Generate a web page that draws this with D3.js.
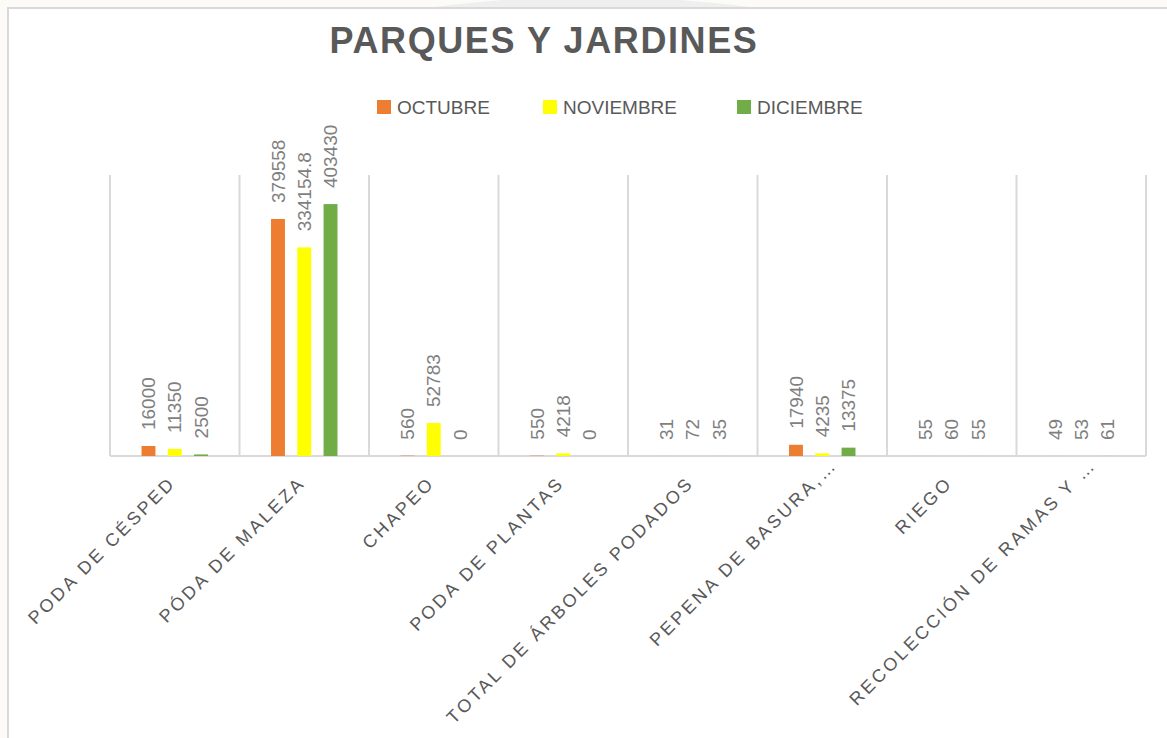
<!DOCTYPE html>
<html>
<head>
<meta charset="utf-8">
<script src="https://cdn.jsdelivr.net/npm/d3@7"></script>
<style>
  html, body { margin: 0; padding: 0; background: #fdfbf7; overflow: hidden; }
  svg { display: block; font-family: "Liberation Sans", Arial, sans-serif; }
</style>
</head>
<body>
<svg width="1167" height="738"></svg>
<script>
// **** data ****
var categories = ['PODA DE CÉSPED', 'PÓDA DE MALEZA', 'CHAPEO', 'PODA DE PLANTAS',
    'TOTAL DE ÁRBOLES PODADOS', 'PEPENA DE BASURA,…', 'RIEGO', 'RECOLECCIÓN DE RAMAS Y …'];
var seriesNames = ['OCTUBRE', 'NOVIEMBRE', 'DICIEMBRE'];
var octubre   = [16000, 379558, 560, 550, 31, 17940, 55, 49];
var noviembre = [11350, 334154.8, 52783, 4218, 72, 4235, 60, 53];
var diciembre = [2500, 403430, 0, 0, 35, 13375, 55, 61];
var colors = ['#ED7D31', '#FFFF00', '#70AD47'];
var yMax = 450000;

var values = [octubre, noviembre, diciembre];

var svg = d3.select('svg');

// faint watermark peeking above the chart frame
svg.append('path')
    .attr('d', 'M425,8 Q590,-14 760,8 Z')
    .attr('fill', '#efefef');

// chart frame
svg.append('rect')
    .attr('x', 8).attr('y', 8)
    .attr('width', 1200).attr('height', 800)
    .attr('fill', '#ffffff')
    .attr('stroke', '#d9d9d9')
    .attr('stroke-width', 2);

// **** scales ****
var x0 = d3.scaleBand()
    .domain(categories)
    .range([110, 1146])
    .padding(0);

var x1 = d3.scaleBand()
    .domain(seriesNames)
    .range([0, x0.bandwidth()])
    .paddingInner(0.47)
    .paddingOuter(1.2);

var y = d3.scaleLinear()
    .domain([0, yMax])
    .range([456, 175]);

// vertical gridlines between categories
var bounds = categories.map(c => x0(c)).concat([x0.range()[1]]);
svg.append('g')
    .selectAll('line')
    .data(bounds)
    .enter()
    .append('line')
    .attr('x1', d => d).attr('x2', d => d)
    .attr('y1', y(yMax)).attr('y2', y(0))
    .attr('stroke', '#d9d9d9')
    .attr('stroke-width', 2);

// baseline
svg.append('line')
    .attr('x1', x0.range()[0]).attr('x2', x0.range()[1])
    .attr('y1', y(0)).attr('y2', y(0))
    .attr('stroke', '#d9d9d9')
    .attr('stroke-width', 2);

// flatten to one row per bar
var rows = [];
categories.forEach((c, i) => {
    seriesNames.forEach((s, j) => {
        rows.push({cat: c, series: s, value: values[j][i], color: colors[j]});
    });
});

// bars
svg.append('g')
    .selectAll('rect')
    .data(rows)
    .enter()
    .append('rect')
    .attr('x', d => x0(d.cat) + x1(d.series))
    .attr('y', d => y(d.value))
    .attr('width', x1.bandwidth())
    .attr('height', d => y(0) - y(d.value))
    .attr('fill', d => d.color);

// value labels, rotated
svg.append('g')
    .selectAll('text')
    .data(rows)
    .enter()
    .append('text')
    .attr('transform', d => {
        var cx = x0(d.cat) + x1(d.series) + x1.bandwidth() / 2;
        return 'translate(' + cx + ',' + (y(d.value) - 16) + ') rotate(-90)';
    })
    .attr('dy', '0.35em')
    .attr('text-anchor', 'start')
    .attr('font-size', 19)
    .attr('fill', '#7f7f7f')
    .text(d => String(d.value));

// category labels at -45deg
svg.append('g')
    .selectAll('text')
    .data(categories)
    .enter()
    .append('text')
    .attr('transform', d => {
        var cx = x0(d) + x0.bandwidth() / 2 + 2;
        var cy = 484;
        if (d.slice(-1) === '…') { cx += 14; cy -= 18; }
        return 'translate(' + cx + ',' + cy + ') rotate(-45)';
    })
    .attr('text-anchor', 'end')
    .attr('font-size', 18)
    .attr('letter-spacing', 2.9)
    .attr('fill', '#595959')
    .text(d => d);

// title
svg.append('text')
    .attr('x', 544)
    .attr('y', 53)
    .attr('text-anchor', 'middle')
    .attr('font-size', 36)
    .attr('font-weight', 'bold')
    .attr('letter-spacing', 1.6)
    .attr('fill', '#595959')
    .text('PARQUES Y JARDINES');

// legend
var legendX = [377, 543, 737];
var legend = svg.append('g')
    .selectAll('g')
    .data(seriesNames)
    .enter()
    .append('g')
    .attr('transform', (d, i) => 'translate(' + legendX[i] + ',100)');

legend.append('rect')
    .attr('width', 14).attr('height', 14)
    .attr('fill', (d, i) => colors[i]);

legend.append('text')
    .attr('x', 20)
    .attr('y', 14)
    .attr('font-size', 19)
    .attr('fill', '#595959')
    .text(d => d);
</script>
</body>
</html>
